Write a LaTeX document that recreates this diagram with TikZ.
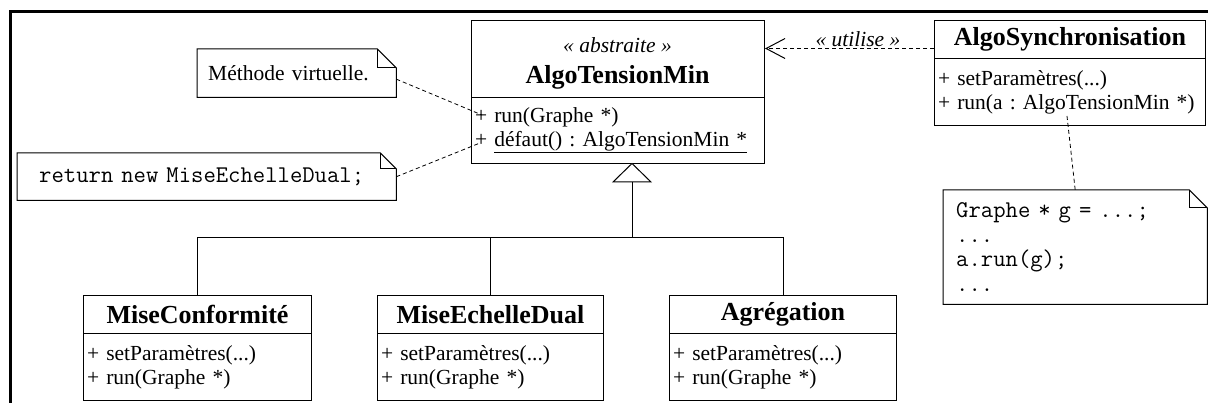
\documentclass[tikz,border=0pt]{standalone}
\usepackage{fontspec}
\setmainfont{Liberation Serif}
\usetikzlibrary{arrows.meta}
\newcommand\notefold[2]{%
  \draw[ln] (#1.north west) -- ([xshift=-#2]#1.north east) -- ([yshift=-#2]#1.north east) -- (#1.south east) -- (#1.south west) -- cycle;
  \draw[ln] ([xshift=-#2]#1.north east) |- ([yshift=-#2]#1.north east);}
\begin{document}
\frenchspacing
\begin{tikzpicture}[x=1pt,y=-1pt,
  ln/.style={line width=1pt},
  box/.style={draw, line width=1pt, rectangle, anchor=north west, inner sep=0pt},
  namefont/.style={font=\fontsize{26}{31}\selectfont\bfseries},
  hdr/.style={box, namefont, align=center},
  body/.style={box, font=\fontsize{21.5}{24}\selectfont, align=left, inner xsep=3.5pt, text width=#1},
  notetext/.style={anchor=north west, inner ysep=0pt, align=left},
  codefont/.style={font=\fontsize{24}{24.5}\selectfont\ttfamily},
  dashline/.style={line width=0.8pt, dash pattern=on 4pt off 3pt},
  gen/.style={line width=1pt},
  stereo/.style={font=\fontsize{21.5}{24}\selectfont\itshape}
]
\useasboundingbox (0,0) rectangle (1208,403);
% frame
\draw[line width=3pt] (10.5,403) -- (10.5,11.5) -- (1208,11.5);

% AlgoTensionMin
\node[hdr, minimum width=293pt, minimum height=77pt] (atm) at (471,20) {};
\node[stereo, anchor=base] (atmst) at (617.5,53) {« abstraite »};
\node[namefont, anchor=base] (atmname) at (617.5,84) {AlgoTensionMin};
\node[body=286pt, minimum height=66pt] (atmb) at (471,97)
  {+ run(Graphe *)\\+ \underline{défaut() : AlgoTensionMin *}};

% AlgoSynchronisation
\node[hdr, minimum width=271pt, minimum height=38pt] (as) at (934,20) {AlgoSynchronisation};
\node[body=264pt, minimum height=67pt] (asb) at (934,58)
  {+ setParamètres(...)\\+ run(a : AlgoTensionMin *)};

% subclasses
\node[hdr, minimum width=228pt, minimum height=38pt] (mc) at (83,295) {MiseConformité};
\node[body=221pt, minimum height=67pt] (mcb) at (83,333)
  {+ setParamètres(...)\\+ run(Graphe *)};
\node[hdr, minimum width=226pt, minimum height=38pt] (me) at (377,295) {MiseEchelleDual};
\node[body=219pt, minimum height=67pt] (meb) at (377,333)
  {+ setParamètres(...)\\+ run(Graphe *)};
\node[hdr, minimum width=227pt, minimum height=38pt] (ag) at (669,295) {Agrégation};
\node[body=220pt, minimum height=67pt] (agb) at (669,333)
  {+ setParamètres(...)\\+ run(Graphe *)};

% notes
\node[notetext, inner xsep=11pt, text width=177pt, minimum height=48pt,
  font=\fontsize{21.5}{24}\selectfont\rmfamily] (n1) at (197,49) {Méthode virtuelle.};
\notefold{n1}{19pt}
\node[notetext, inner xsep=22pt, text width=335pt, minimum height=47pt, codefont]
  (n2) at (17,153) {\mbox{return new MiseEchelleDual;}};
\notefold{n2}{16pt}
\node[notetext, inner xsep=13pt, text width=238pt, minimum height=114pt, codefont]
  (n3) at (943,190) {Graphe * g = ...;\\...\\a.run(g);\\...};
\notefold{n3}{18pt}

% note connectors
\coordinate (p1) at (482,115);
\coordinate (p2) at (480,143);
\coordinate (p3) at (1067,116);
\draw[dashline] ([yshift=-6pt]n1.east) -- (p1);
\draw[dashline] (n2.east) -- (p2);
\draw[dashline] (p3) -- (n3.north);

% dependency
\coordinate (dstart) at ([yshift=-9pt]as.west);
\draw[dashline, -{Straight Barb[length=19pt, width=20pt, line width=1pt]}] (dstart) -- (dstart -| atm.east)
  node[pos=0.45, yshift=9pt, stereo] {« utilise »};

% generalization
\coordinate (apex) at (632,163.5);
\coordinate (tbase) at (632,182);
\coordinate (bus) at (632,238);
\draw[ln, fill=white] (apex) -- ++(-19,18.5) -- ++(38,0) -- cycle;
\draw[gen] (tbase) -- (bus);
\draw[gen] (bus) -| (mc.north);
\draw[gen] (bus) -| (me.north);
\draw[gen] (bus) -| (ag.north);
\end{tikzpicture}
\end{document}
